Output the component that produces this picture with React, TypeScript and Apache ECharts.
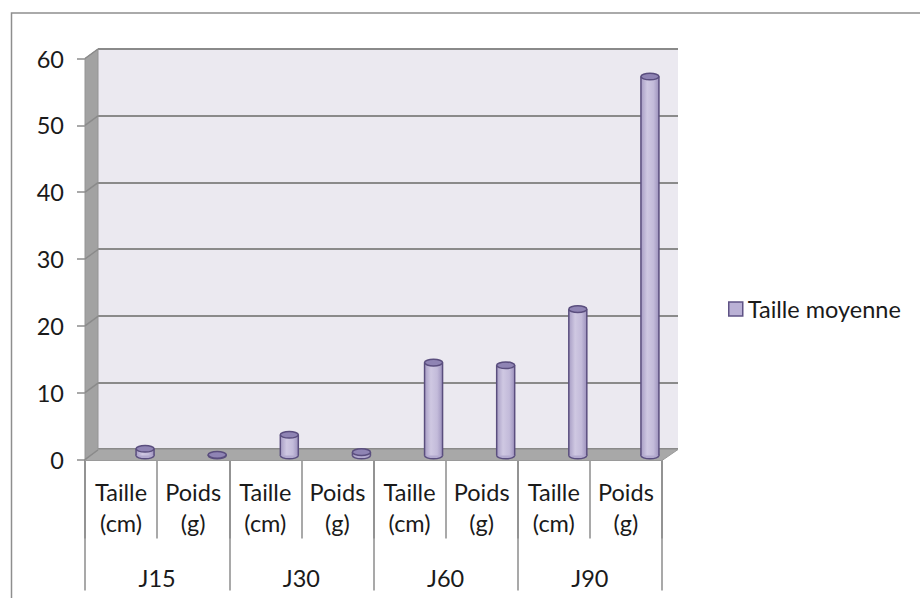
import React, { useEffect, useRef } from "react";
import * as echarts from "echarts";

const categories = [
  "Taille\n(cm)", "Poids\n(g)",
  "Taille\n(cm)", "Poids\n(g)",
  "Taille\n(cm)", "Poids\n(g)",
  "Taille\n(cm)", "Poids\n(g)",
];
const groups = ["J15", "J30", "J60", "J90"];
const seriesName = "Taille moyenne";
const values = [1.0, 0.1, 3.1, 0.5, 13.9, 13.5, 21.9, 56.7];
const yTickValues = [0, 10, 20, 30, 40, 50, 60];

const FONT = "Lato, 'Open Sans', sans-serif";
const FS = 23.5;
const TEXT = "#1a1a1a";
const AXIS_GREY = "#8c8c8c";
const DEPTH_X = 13;
const DEPTH_Y = 10;

export default function App() {
  const ref = useRef<HTMLDivElement>(null);
  useEffect(() => {
    if (!ref.current) return;
    const chart = echarts.init(ref.current, undefined, { renderer: "svg" });
    const option: any = {
      animation: false,
      backgroundColor: "#ffffff",
      graphic: [
        {
          type: "rect",
          shape: { x: 11.5, y: 13, width: 1000, height: 1000 },
          style: { fill: "none", stroke: "#8e8e8e", lineWidth: 1.5 },
          silent: true,
        },
      ],
      legend: {
        left: 723,
        top: 292,
        icon: "rect",
        itemWidth: 14,
        itemHeight: 14,
        itemGap: 6,
        data: [
          {
            name: seriesName,
            itemStyle: { color: "#bab1d5", borderColor: "#5f5385", borderWidth: 1.5 },
          },
        ],
        textStyle: { fontFamily: FONT, fontSize: FS, color: TEXT, padding: [0, 0, 0, 0] },
      },
      grid: [
        { left: 98, top: 49, width: 580, height: 400, show: true, backgroundColor: "#ebe9f0", borderWidth: 0 },
        { left: 85, top: 58.5, width: 577, height: 401 },
      ],
      xAxis: [
        { gridIndex: 0, type: "category", data: categories, show: false },
        {
          gridIndex: 1,
          type: "category",
          data: categories,
          position: "bottom",
          axisLine: { show: true, lineStyle: { color: AXIS_GREY, width: 1.5 } },
          axisTick: { show: true, length: 79, lineStyle: { color: AXIS_GREY, width: 1.5 } },
          axisLabel: {
            interval: 0,
            margin: 17,
            fontFamily: FONT,
            fontSize: FS,
            lineHeight: 31,
            color: TEXT,
          },
        },
        {
          gridIndex: 1,
          type: "category",
          data: groups,
          position: "bottom",
          axisLine: { show: false },
          axisTick: { show: true, length: 131, lineStyle: { color: AXIS_GREY, width: 1.5 } },
          axisLabel: {
            interval: 0,
            margin: 106,
            fontFamily: FONT,
            fontSize: FS,
            lineHeight: 24,
            color: TEXT,
          },
        },
      ],
      yAxis: [
        {
          gridIndex: 0,
          type: "value",
          min: 0,
          max: 60,
          interval: 10,
          axisLabel: { show: false },
          axisLine: { show: false },
          axisTick: { show: false },
          splitLine: { show: true, lineStyle: { color: "#8a8a8a", width: 2 } },
        },
        {
          gridIndex: 1,
          type: "value",
          min: 0,
          max: 60,
          interval: 10,
          axisLine: { show: true, lineStyle: { color: AXIS_GREY, width: 1 } },
          axisTick: { show: true, length: 8, lineStyle: { color: AXIS_GREY, width: 1.5 } },
          axisLabel: { margin: 21, fontFamily: FONT, fontSize: FS, color: TEXT },
          splitLine: { show: false },
        },
      ],
      series: [
        {
          type: "custom",
          name: "walls",
          xAxisIndex: 1,
          yAxisIndex: 1,
          silent: true,
          z: 1,
          data: [[0, 0]],
          renderItem: (params: any, api: any) => {
            const cs = params.coordSys;
            const x = cs.x;
            const w = cs.width;
            const yTop = cs.y;
            const yBot = cs.y + cs.height;
            const children: any[] = [];
            children.push({
              type: "polygon",
              shape: {
                points: [
                  [x, yTop],
                  [x + DEPTH_X, yTop - DEPTH_Y + 0.5],
                  [x + DEPTH_X, yBot - DEPTH_Y],
                  [x, yBot],
                ],
              },
              style: { fill: "#a2a2a2", stroke: "#949494", lineWidth: 1 },
            });
            children.push({
              type: "polygon",
              shape: {
                points: [
                  [x, yBot + 1],
                  [x + DEPTH_X, yBot - DEPTH_Y],
                  [x + w + 16, yBot - DEPTH_Y],
                  [x + w, yBot + 1],
                ],
              },
              style: { fill: "#a8a8a8", stroke: "#9a9a9a", lineWidth: 1 },
            });
            yTickValues.forEach((v) => {
              const p = api.coord([0, v]);
              children.push({
                type: "line",
                shape: { x1: x, y1: p[1], x2: x + DEPTH_X, y2: p[1] - DEPTH_Y + 0.5 },
                style: { stroke: "#8a8a8a", lineWidth: 1.5 },
              });
            });
            return { type: "group", children };
          },
        },
        {
          type: "custom",
          name: seriesName,
          xAxisIndex: 1,
          yAxisIndex: 1,
          z: 5,
          itemStyle: { color: "#bab1d5", borderColor: "#5f5385" },
          encode: { x: 0, y: 1 },
          data: values.map((v, i) => [i, v]),
          renderItem: (params: any, api: any) => {
            const idx = api.value(0);
            const val = api.value(1);
            const top = api.coord([idx, val]);
            const base = api.coord([idx, 0]);
            const cx = top[0] + 24;
            const yT = top[1] - 4;
            const yB = base[1] - 4;
            const rx = 9;
            const ry = 3.3;
            const bodyFill = new echarts.graphic.LinearGradient(0, 0, 1, 0, [
              { offset: 0, color: "#a79dc4" },
              { offset: 0.35, color: "#cfc8e2" },
              { offset: 0.7, color: "#c3bbda" },
              { offset: 1, color: "#9d92bd" },
            ]);
            const stroke = "#5a4e7e";
            return {
              type: "group",
              children: [
                {
                  type: "ellipse",
                  shape: { cx, cy: yB, rx, ry },
                  style: { fill: "#b3aacf", stroke, lineWidth: 1.5 },
                },
                {
                  type: "rect",
                  shape: { x: cx - rx, y: yT, width: rx * 2, height: Math.max(yB - yT, 0) },
                  style: { fill: bodyFill },
                },
                {
                  type: "line",
                  shape: { x1: cx - rx, y1: yT, x2: cx - rx, y2: yB },
                  style: { stroke, lineWidth: 1.5 },
                },
                {
                  type: "line",
                  shape: { x1: cx + rx, y1: yT, x2: cx + rx, y2: yB },
                  style: { stroke, lineWidth: 1.5 },
                },
                {
                  type: "ellipse",
                  shape: { cx, cy: yT, rx, ry },
                  style: { fill: "#8f84b4", stroke, lineWidth: 1.5 },
                },
              ],
            };
          },
        },
      ],
    };
    chart.setOption(option);
    return () => chart.dispose();
  }, []);
  return (
    <div
      ref={ref}
      style={{ position: "absolute", left: 0, top: 0, width: 920, height: 598 }}
    />
  );
}
